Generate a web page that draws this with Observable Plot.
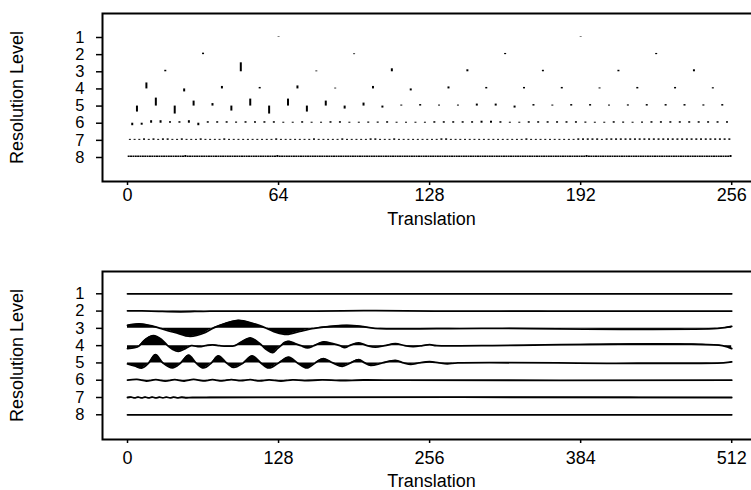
<!DOCTYPE html>
<html>
<head>
<meta charset="utf-8">
<script src="https://cdn.jsdelivr.net/npm/d3@7"></script>
<script src="https://cdn.jsdelivr.net/npm/@observablehq/plot@0.6"></script>
<style>
  html, body { margin: 0; padding: 0; background: white; }
  #wrap { width: 751px; height: 490px; overflow: hidden; background: white; }
  #wrap svg { display: block; }
</style>
</head>
<body>
<div id="wrap"></div>
<script>
// ---------- data ----------
const levels = [1, 2, 3, 4, 5, 6, 7, 8];
const topXTicks = [0, 64, 128, 192, 256];
const bottomXTicks = [0, 128, 256, 384, 512];
const topLength = 256;

// Top panel: wavelet coefficients per resolution level (positive = upward), coarse to fine
const coefL1 = [0.5, 0.5];
const coefL2 = [1.5, 0.8, 1.2, 1.2];
const coefL3 = [1.5, 9, 0.8, 3, 2, 1.5, 1.5, 2];
const coefL4 = [6, -3, 2.5, 1.5, 3, 0.8, 2.5, -2, 2, 1.5, 1.5, 1.5, 1, 1.5, 1.5, 1.2];
const coefL5 = [-6, 8, -8, 5, 2.5, -5, 7, -8, 7, -6, 5, -3, 3, -2, 1, 1.5,
                1, 1, 2, 2, -2, 1.5, 1, 1.5, 1.5, 1, 1.2, 1.5, 1.5, 1.5, 1.2, 1.5];
const coefL6 = [-2.5, -2, 2.5, 2.5, 1.5, 1.5, 2.5, -2.5, 1.5, 1.5, 1.5, 1.2, 1.5, 1.5, 1.5, 1.5,
                1, 1, 1.5, 1, 1, 1.5, 1.5, 1, 1, 1.2, 1.2, 1.5, 1, 1, 1, 1,
                1.5, 1.5, 1.5, 1.5, 1.5, 2, 2, 1.5, 1, 1, 1.5, 1.5, 1.5, 1.5, 1.5, 1.5,
                1.2, 1, 1, 1.5, 1.2, 1, 1.2, 1.5, 1.5, 1.5, 1.5, 1.5, 1.5, 1.5, 1.5, 1.5];
// finest levels: one digit per coefficient, in half-units
const coefL7 = "2223232332232223 2222322222222223 2222222322222322 2223322232222222 2233222222222222 2222322222222223 3333233333333333 3333333333333333";
const coefL8 = "3333333333333333 3333333343333333 3333333333333333 3333333333333334 3333333333333333 3333333333333333 3333333333333333 3333333333333333 3333333333333333 3333333333333333 3333333333333333 3333333333333333 3343333333333333 3333333333333333 3333333333333333 3333333333333334";

// Bottom panel: multiresolution components, knots [translation, amplitude] (positive = upward)
const mraL1 = [[0, 0], [512, 0]];
const mraL2 = [[0, 0.3], [20, 0], [45, -0.7], [70, 0], [160, 0], [200, 0.4], [260, 0], [512, 0]];
const mraL3 = [[0, 3], [10, 4.5], [22, 2], [28, 0], [40, -4], [53, -8], [66, -4], [72, 0], [82, 4.5], [94, 8],
               [106, 5], [118, 0], [126, -4], [135, -6], [146, -3], [158, 0], [172, 2], [186, 3], [198, 2],
               [210, 0], [300, 0], [500, 0], [512, 2]];
const mraL4 = [[0, -3], [6, -2], [10, 0], [15, 6], [22, 10], [29, 6], [34, 0], [38, -3.5], [43, -5.7], [49, -3],
               [54, 0], [61, -1], [66, 0], [72, 0.8], [78, 0], [84, -0.5], [91, 0], [97, 4], [104, 7.7], [110, 4],
               [114, 0], [118, -4], [123, -7], [127, -3], [130, 0], [133, 3], [137, 4.3], [142, 2], [147, 0],
               [152.5, -2.3], [158, 0], [166, 3.7], [174, 2], [180, 0], [184, -2], [188, 0], [196, 2.7], [203, 0],
               [210, -1.5], [218, 0], [227, 2], [235, 0], [242, -1], [250, 0], [256, 1], [262, 0], [300, 0],
               [504, 0], [512, -3]];
const mraL5 = [[0, -1], [6, -3], [12.4, -5], [18, 0], [23.7, 8.3], [30, 0], [38, -5], [45, 0], [51.8, 7.7], [58, 0],
               [64.4, -5], [71, 0], [77, 7], [84, 0], [90, -4.5], [98, 0], [105.6, 7], [113, 0], [119.6, -5],
               [128, 0], [136.6, 5.7], [144, 0], [152, -5], [159, 0], [166, 4.3], [174, 0], [182, -3.3], [189, 0],
               [196, 3.3], [201, 0], [206, -2.5], [216, 0], [227, 2.5], [234, 0], [240, -1.5], [247, 0],
               [256, 1.2], [264, 0], [271, -0.8], [280, 0], [505, 0], [512, 1]];
const mraL6 = [[0, 0], [8, 0.8], [16, -0.8], [24, 0.6], [32, -1], [40, 0.6], [48, -0.8], [56, 0.8], [64, -0.6], [72, 0.5],
               [80, -0.6], [88, 0.6], [96, -0.5], [104, 0.5], [112, -0.6], [120, 0.4], [130, -0.8], [140, 0.4],
               [150, -0.4], [165, 0.4], [180, -0.3], [200, 0.2], [230, 0], [512, 0]];
const mraL7 = [[0, 0], [3, 0.45], [6, -0.45], [9, 0.45], [12, -0.45], [15, 0.45], [18, -0.45], [21, 0.45], [24, -0.45],
               [27, 0.35], [30, -0.35], [33, 0.35], [36, -0.35], [39, 0.3], [42, -0.3], [46, 0.25], [50, -0.25], [55, 0],
               [512, 0]];
const mraL8 = [[0, 0], [512, 0]];

// ---------- build tables ----------
const AMP = 1 / 17.2; // amplitude units per resolution level
const parseDigits = s => s.replace(/\s+/g, "").split("").map(c => +c / 2);
const coefByLevel = [coefL1, coefL2, coefL3, coefL4, coefL5, coefL6, parseDigits(coefL7), parseDigits(coefL8)];
const coefRows = [];
coefByLevel.forEach((vals, i) => {
  const step = topLength / vals.length;
  vals.forEach((v, k) => coefRows.push({level: levels[i], t: step * (k + 0.5), v}));
});
const mraByLevel = [mraL1, mraL2, mraL3, mraL4, mraL5, mraL6, mraL7, mraL8];
const mraRows = [];
mraByLevel.forEach((pts, i) => pts.forEach(([t, v]) => mraRows.push({level: levels[i], t, v})));

const font = "'Liberation Sans', Arial, Helvetica, sans-serif";
const commonStyle = {fontFamily: font, fontSize: "18px", color: "black", background: "white", maxWidth: "none"};

function axes(xTicks, xPad, xLabelOffset) {
  return [
    Plot.axisY({ticks: levels, tickSize: 6, tickPadding: 12, strokeWidth: 1.5, fontSize: 16.5, label: null}),
    Plot.axisY({ticks: [], label: "Resolution Level", labelAnchor: "center", labelOffset: 92, labelArrow: "none", fontSize: 18}),
    Plot.axisX({ticks: xTicks, tickSize: 4, tickPadding: xPad, strokeWidth: 1.5, fontSize: 18,
      label: "Translation", labelAnchor: "center", labelOffset: xLabelOffset, labelArrow: "none"}),
    Plot.frame({stroke: "black", strokeWidth: 2})
  ];
}

const topChart = Plot.plot({
  width: 760, height: 245,
  marginLeft: 102, marginRight: 0, marginTop: 13, marginBottom: 64,
  style: commonStyle,
  x: {domain: [-10.6, 268.2]},
  y: {domain: [-0.4, 9.4], reverse: true},
  marks: [
    Plot.ruleX(coefRows, {x: "t", y1: "level", y2: d => d.level - d.v * AMP, stroke: "black", strokeWidth: 2}),
    ...axes(topXTicks, 3, 43)
  ]
});

const bottomChart = Plot.plot({
  width: 760, height: 245,
  marginLeft: 102, marginRight: 0, marginTop: 26, marginBottom: 51,
  style: commonStyle,
  x: {domain: [-21.2, 536.4]},
  y: {domain: [-0.29, 9.43], reverse: true},
  marks: [
    Plot.areaY(mraRows, {x: "t", y1: "level", y2: d => d.level - d.v * AMP, z: "level", fill: "black", curve: "catmull-rom"}),
    Plot.lineY(mraRows, {x: "t", y: d => d.level - d.v * AMP, z: "level", stroke: "black", strokeWidth: 1.8, curve: "catmull-rom"}),
    ...axes(bottomXTicks, 8, 47)
  ]
});

const wrap = document.getElementById("wrap");
wrap.appendChild(topChart);
wrap.appendChild(bottomChart);
</script>
</body>
</html>
